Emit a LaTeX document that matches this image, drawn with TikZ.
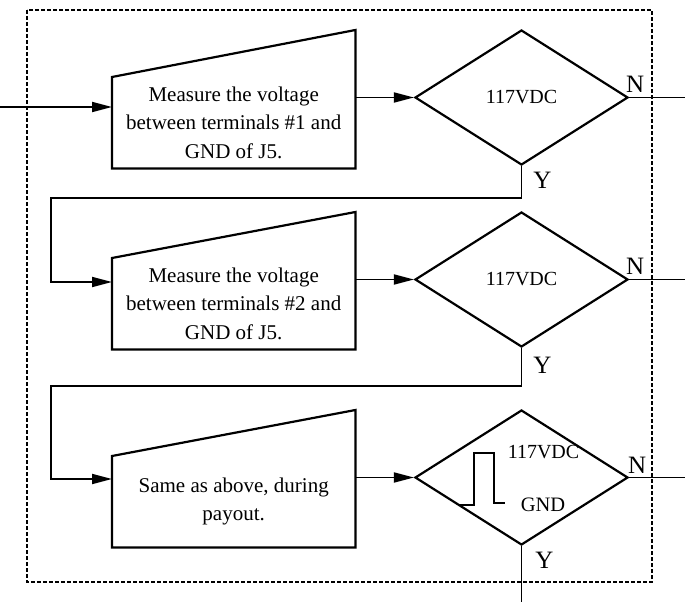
\documentclass[tikz,border=0pt]{standalone}
\usepackage{fontspec}
\setmainfont{Liberation Serif}
\usetikzlibrary{shapes.geometric,arrows.meta,calc}
\begin{document}
\begin{tikzpicture}[x=1pt,y=-1pt,
  inbox/.style={draw=none, minimum width=243pt, minimum height=91pt, inner sep=0pt, align=center, font=\fontsize{21}{28.5}\selectfont, anchor=north west},
  shapeline/.style={line width=2.2pt, line join=miter},
  dec/.style={diamond, draw, line width=2.2pt, minimum width=213pt, minimum height=135pt, inner sep=0pt, aspect=1.58, font=\fontsize{20}{24}\selectfont},
  conn/.style={line width=1.8pt},
  arr/.style={conn, -{Triangle[length=20pt,width=10pt]}},
  lab/.style={font=\fontsize{25}{30}\selectfont, inner sep=0pt, anchor=base},
  smalltxt/.style={font=\fontsize{20}{24}\selectfont, inner sep=0pt},
  outerframe/.style={line width=1.8pt, dash pattern=on 4pt off 2pt},
]
\useasboundingbox (0,0) rectangle (685,602);
\draw[outerframe] (27,10) rectangle (652,582);

% boxes (manual input)
\node[inbox] (b1) at (112,77) {Measure the voltage\\between terminals \#1 and\\GND of J5.};
\draw[shapeline] (b1.south west) -- (b1.north west) -- ($(b1.north east)+(0,-47)$) -- (b1.south east) -- cycle;
\node[inbox] (b2) at (112,258) {Measure the voltage\\between terminals \#2 and\\GND of J5.};
\draw[shapeline] (b2.south west) -- (b2.north west) -- ($(b2.north east)+(0,-46)$) -- (b2.south east) -- cycle;
\node[inbox] (b3) at (112,456) {Same as above, during\\payout.};
\draw[shapeline] (b3.south west) -- (b3.north west) -- ($(b3.north east)+(0,-46)$) -- (b3.south east) -- cycle;

% decisions
\node[dec] (d1) at (521.5,97.5) {117VDC};
\node[dec] (d2) at (521.5,279.5) {117VDC};
\node[dec] (d3) at (521.5,477.5) {};
\node[smalltxt] (v3) at (543.5,452.5) {117VDC};
\node[smalltxt, font=\fontsize{20.5}{24}\selectfont] (g3) at (543,505) {GND};
\draw[conn] (460,505) -- (474,505) -- (474,453) -- (494,453) -- (494,503) -- (505,503);

% labels
\node[lab] (N1) at ($(d1.east)+(6,-5)$) {N};
\node[lab] (N2) at ($(d2.east)+(6,-5)$) {N};
\node[lab] (N3) at ($(d3.east)+(8,-4)$) {N};
\node[lab] (Y1) at ($(d1.south)+(21,22)$) {Y};
\node[lab] (Y2) at ($(d2.south)+(21,25)$) {Y};
\node[lab] (Y3) at ($(d3.south)+(23,22)$) {Y};

% connectors
\coordinate (in) at (0,107);
\draw[arr] (in) -- (in -| b1.west);
\draw[arr] (d1.west -| b1.east) -- (d1.west);
\draw[arr] (d2.west -| b2.east) -- (d2.west);
\draw[arr] (d3.west -| b3.east) -- (d3.west);

\coordinate (n1) at (685,97.5);
\coordinate (n2) at (685,279.5);
\coordinate (n3) at (685,477.5);
\draw[conn] (d1.east) -- (n1);
\draw[conn] (d2.east) -- (n2);
\draw[conn] (d3.east) -- (n3);

\coordinate (l1a) at (521.5,198);
\coordinate (l1b) at (51,198);
\coordinate (l1c) at (51,282);
\draw[arr] (d1.south) -- (l1a) -- (l1b) -- (l1c) -- (l1c -| b2.west);

\coordinate (l2a) at (521.5,386);
\coordinate (l2b) at (51,386);
\coordinate (l2c) at (51,479);
\draw[arr] (d2.south) -- (l2a) -- (l2b) -- (l2c) -- (l2c -| b3.west);

\coordinate (out) at (521.5,602);
\draw[conn] (d3.south) -- (out);
\end{tikzpicture}
\end{document}
